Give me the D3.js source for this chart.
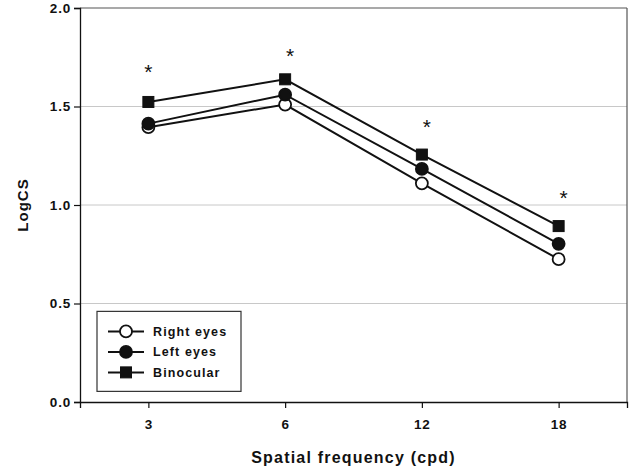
<!DOCTYPE html>
<html>
<head>
<meta charset="utf-8">
<script src="https://cdn.jsdelivr.net/npm/d3@7"></script>
<style>
  body { margin: 0; background: #fff; }
  svg { font-family: "Liberation Sans", Arial, sans-serif; }
</style>
</head>
<body>
<svg id="chart" width="631" height="469"></svg>
<script>
const frequencies = ["3", "6", "12", "18"];
const rightEyes = [1.395, 1.51, 1.11, 0.725];
const leftEyes = [1.413, 1.56, 1.183, 0.803];
const binocular = [1.523, 1.638, 1.256, 0.893];
const starHeights = [1.70, 1.78, 1.42, 1.06];
const yTicks = [0, 0.5, 1.0, 1.5, 2.0];

const series = [
  { name: "Right eyes", values: rightEyes, shape: "circle", fill: "#fff" },
  { name: "Left eyes", values: leftEyes, shape: "circle", fill: "#111" },
  { name: "Binocular", values: binocular, shape: "square", fill: "#111" }
];

const svg = d3.select("#chart");
const margin = { top: 8, right: 4, bottom: 67, left: 80 };
const width = 631 - margin.left - margin.right;
const height = 469 - margin.top - margin.bottom;
const g = svg.append("g").attr("transform", `translate(${margin.left},${margin.top})`);

const x = d3.scalePoint().domain(frequencies).range([0, width]).padding(0.5);
const y = d3.scaleLinear().domain([0, 2]).range([height, 0]);

// grid lines
g.selectAll(".grid").data(yTicks.filter(d => d > 0 && d < 2)).join("line")
  .attr("x1", 0).attr("x2", width)
  .attr("y1", d => y(d)).attr("y2", d => y(d))
  .attr("stroke", "#c8c8c8").attr("stroke-width", 1);

// frame top / right
g.append("line").attr("x1", 0).attr("x2", width).attr("y1", y(2)).attr("y2", y(2))
  .attr("stroke", "#555").attr("stroke-width", 1.2);
g.append("line").attr("x1", width).attr("x2", width).attr("y1", y(2)).attr("y2", height)
  .attr("stroke", "#555").attr("stroke-width", 1.2);

// axes
const yAxis = g.append("g").call(d3.axisLeft(y).tickValues(yTicks).tickFormat(d3.format(".1f")).tickSize(6).tickPadding(3));
const xAxis = g.append("g").attr("transform", `translate(0,${height})`)
  .call(d3.axisBottom(x).tickSize(6).tickPadding(11));
[xAxis, yAxis].forEach(a => {
  a.select(".domain").attr("stroke", "#111").attr("stroke-width", 1.3);
  a.selectAll(".tick line").attr("stroke", "#111").attr("stroke-width", 1.2);
  a.selectAll(".tick text").attr("fill", "#111").attr("font-size", 13.5).attr("font-weight", "bold")
    .attr("letter-spacing", "0.8px").attr("font-family", "'Liberation Sans', Arial, sans-serif");
});

const line = d3.line().x((d, i) => x(frequencies[i])).y(d => y(d));

function drawMarker(sel, s, cx, cy, r) {
  if (s.shape === "circle") {
    sel.append("circle").attr("cx", cx).attr("cy", cy).attr("r", r)
      .attr("fill", s.fill).attr("stroke", "#111").attr("stroke-width", 1.8);
  } else {
    sel.append("rect").attr("x", cx - r + 0.5).attr("y", cy - r + 0.5)
      .attr("width", 2 * r - 1).attr("height", 2 * r - 1)
      .attr("fill", s.fill).attr("stroke", "#111").attr("stroke-width", 1);
  }
}

series.forEach(s => {
  g.append("path").datum(s.values).attr("d", line)
    .attr("fill", "none").attr("stroke", "#111").attr("stroke-width", 2);
});
series.forEach(s => {
  s.values.forEach((v, i) => drawMarker(g, s, x(frequencies[i]), y(v), 6));
});

// significance markers
g.selectAll(".star").data(starHeights).join("text")
  .attr("x", (d, i) => x(frequencies[i]) + (i === 0 ? 0 : 5))
  .attr("y", d => y(d) + 12)
  .attr("text-anchor", "middle").attr("font-size", 21).attr("fill", "#111")
  .text("*");

// legend
const lg = g.append("g").attr("transform", `translate(17,${y(0.46)})`);
lg.append("rect").attr("width", 144).attr("height", 80)
  .attr("fill", "#fff").attr("stroke", "#333").attr("stroke-width", 1.2);
series.forEach((s, i) => {
  const ry = 20 + i * 20.5;
  lg.append("line").attr("x1", 11).attr("x2", 47).attr("y1", ry).attr("y2", ry)
    .attr("stroke", "#111").attr("stroke-width", 2);
  drawMarker(lg, s, 29, ry, 6);
  lg.append("text").attr("x", 56).attr("y", ry + 4.5)
    .attr("font-size", 12.5).attr("font-weight", "bold").attr("letter-spacing", "1.1px")
    .attr("fill", "#111").text(s.name);
});

// axis titles
svg.append("text").attr("x", margin.left + width / 2).attr("y", 463)
  .attr("text-anchor", "middle").attr("font-size", 16).attr("font-weight", "bold")
  .attr("letter-spacing", "1.2px").attr("fill", "#111").text("Spatial frequency (cpd)");
svg.append("text").attr("transform", `translate(28,${margin.top + height / 2}) rotate(-90)`)
  .attr("text-anchor", "middle").attr("font-size", 15).attr("font-weight", "bold")
  .attr("letter-spacing", "1px").attr("fill", "#111").text("LogCS");
</script>
</body>
</html>
